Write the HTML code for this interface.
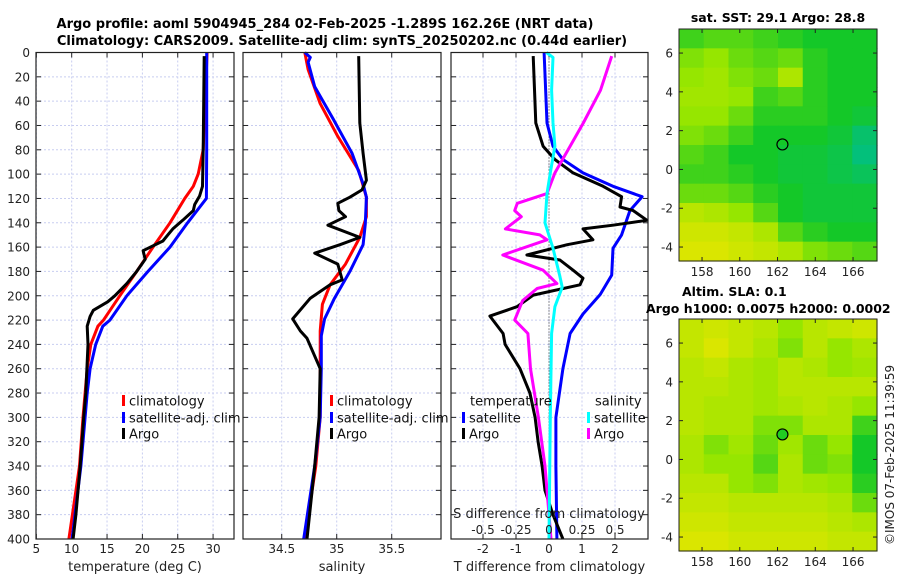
<!DOCTYPE html>
<html><head><meta charset="utf-8">
<style>
html,body{margin:0;padding:0;background:#fff;}
svg{display:block;font-family:"DejaVu Sans","Liberation Sans",sans-serif;}
</style></head>
<body>
<svg id="fig" width="900" height="580" viewBox="0 0 900 580" xmlns="http://www.w3.org/2000/svg">
<text x="325" y="28" text-anchor="middle" font-size="13" font-weight="bold">Argo profile: aoml 5904945_284 02-Feb-2025 -1.289S 162.26E (NRT data)</text>
<text x="342" y="45" text-anchor="middle" font-size="13" font-weight="bold">Climatology: CARS2009. Satellite-adj clim: synTS_20250202.nc (0.44d earlier)</text>
<g id="g"></g>
</svg>
<script>
// ---------- data ----------
const tempClimD=[0,80,100,110,120,140,160,180,200,220,225,240,260,300,340,400];
const tempClimV=[29.15,28.6,27.9,27.2,26.0,23.9,21.5,19.2,16.8,14.5,13.7,12.7,12.2,11.6,11.1,9.6];
const tempSatD=[0,80,120,140,160,180,200,220,225,240,260,280,300,340,400];
const tempSatV=[29.1,29.1,29.05,26.4,23.9,20.8,17.8,15.4,14.4,13.4,12.6,12.2,11.9,11.3,10.05];
const tempArgoD=[3,80,110,118,125,130,138,145,150,155,163,170,180,190,200,205,212,217,225,240,280,300,340,380,400];
const tempArgoV=[28.75,28.6,28.5,28.1,27.4,27.2,25.7,24.3,23.6,22.9,20.1,20.4,19.2,17.8,16.1,15.1,13.05,12.6,12.2,12.3,12.0,11.7,11.2,10.6,10.2];
const salClimD=[0,14,42,69,97,119,135,152,174,191,207,229,260,300,340,400];
const salClimV=[34.71,34.74,34.85,35.01,35.2,35.27,35.27,35.21,35.08,34.94,34.87,34.85,34.85,34.85,34.81,34.71];
const salSatD=[0,4,8,28,55,83,108,119,141,158,180,202,219,233,260,300,340,400];
const salSatV=[34.71,34.76,34.74,34.8,34.97,35.14,35.24,35.27,35.26,35.24,35.12,34.98,34.89,34.86,34.86,34.85,34.8,34.70];
const salArgoD=[3,58,83,105,113,119,124,130,135,142,152,158,165,174,187,191,202,219,229,235,260,300,340,400];
const salArgoV=[35.2,35.21,35.24,35.27,35.23,35.12,35.01,35.02,35.08,34.92,35.21,35.03,34.8,35.01,35.05,34.94,34.76,34.6,34.67,34.73,34.85,34.84,34.8,34.73];
const dTArgoD=[3,58,77,88,99,110,118.6,127,130,138,142,145,154,158,166.5,170.6,179,185.6,191,199.5,209,216.7,231,240,260,280,300,320,340,360,380,400];
const dTArgoV=[-0.48,-0.4,-0.18,0.18,0.73,1.64,2.2,2.15,2.55,2.97,1.94,1.03,1.33,0.55,-0.67,0.33,0.73,1.03,0.94,-0.48,-0.97,-1.79,-1.39,-1.33,-0.88,-0.58,-0.42,-0.33,-0.21,-0.12,0.12,0.42];
const dTSatD=[0,58,77,88,99,110,118.6,130,150,161,183,199,215,231,260,300,340,400];
const dTSatV=[-0.15,-0.06,0.12,0.42,1.03,1.94,2.82,2.45,2.2,1.94,1.9,1.55,1.03,0.64,0.42,0.21,0.21,0.24];
const dSArgoD=[3,31,58,77,99,116,124,130,135,145,150,154,166.5,179,190,194,204,220,231,260,300,340,400];
const dSArgoV=[0.475,0.39,0.26,0.16,0.045,-0.015,-0.24,-0.26,-0.21,-0.33,-0.07,-0.015,-0.35,-0.045,0.06,-0.09,-0.2,-0.26,-0.16,-0.14,-0.08,-0.03,0.015];
const dSSatD=[0,4,31,58,77,99,116,140,161,183,193,209,231,300,400];
const dSSatV=[-0.02,0.03,0.02,0.03,0.045,0.01,-0.015,-0.03,0.03,0.08,0.1,0.045,0.02,0.01,0.0];
const depthTicks=[0,20,40,60,80,100,120,140,160,180,200,220,240,260,280,300,320,340,360,380,400];
const tempTicks=[5,10,15,20,25,30];
const salTicks=[34.5,35,35.5];
const dTTicks=[-2,-1,0,1,2];
const dSTicks=[-0.5,-0.25,0,0.25,0.5];
const lonTicks=[158,160,162,164,166];
const latTicks=[-4,-2,0,2,4,6];
const argoLon=162.26, argoLat=1.289;
// map "yellowness" grids (rows north->south, cols west->east)
const sstGrid=[
[0.40,0.45,0.45,0.40,0.35,0.30,0.30,0.30],
[0.55,0.60,0.50,0.45,0.50,0.35,0.30,0.30],
[0.60,0.65,0.55,0.50,0.70,0.35,0.30,0.30],
[0.65,0.65,0.60,0.40,0.45,0.35,0.30,0.30],
[0.60,0.60,0.50,0.35,0.35,0.35,0.30,0.25],
[0.55,0.50,0.40,0.30,0.30,0.30,0.25,0.10],
[0.45,0.40,0.30,0.30,0.25,0.25,0.20,0.05],
[0.40,0.40,0.35,0.30,0.25,0.25,0.20,0.15],
[0.50,0.50,0.45,0.35,0.30,0.25,0.25,0.25],
[0.75,0.70,0.60,0.45,0.30,0.25,0.25,0.25],
[0.85,0.85,0.80,0.70,0.45,0.35,0.30,0.30],
[0.90,0.90,0.85,0.80,0.70,0.55,0.50,0.45]];
const slaGrid=[
[0.80,0.85,0.80,0.75,0.60,0.75,0.80,0.85],
[0.80,0.90,0.80,0.70,0.55,0.75,0.60,0.70],
[0.75,0.80,0.70,0.65,0.75,0.70,0.60,0.65],
[0.75,0.75,0.70,0.65,0.75,0.75,0.75,0.75],
[0.75,0.70,0.70,0.65,0.70,0.75,0.70,0.60],
[0.75,0.70,0.70,0.55,0.55,0.70,0.70,0.40],
[0.70,0.55,0.65,0.50,0.65,0.50,0.60,0.30],
[0.70,0.60,0.60,0.45,0.70,0.50,0.55,0.30],
[0.75,0.75,0.60,0.55,0.70,0.65,0.60,0.35],
[0.80,0.80,0.75,0.75,0.75,0.75,0.70,0.50],
[0.85,0.85,0.80,0.80,0.80,0.80,0.75,0.70],
[0.90,0.90,0.85,0.85,0.85,0.85,0.80,0.80]];

// ---------- drawing ----------
const NS='http://www.w3.org/2000/svg';
const G=document.getElementById('g');
function mk(tag,attrs,parent){const e=document.createElementNS(NS,tag);for(const k in attrs)e.setAttribute(k,attrs[k]);(parent||G).appendChild(e);return e;}
const Y0=52.5,Y1=539;
const yD=d=>Y0+(d/400)*(Y1-Y0);
function lin(d0,d1,r0,r1){return v=>r0+(v-d0)/(d1-d0)*(r1-r0);}
const panels=[
 {name:'temperature',x0:36,x1:234,dom:[4.95,32.96],ticks:tempTicks,label:'temperature (deg C)'},
 {name:'salinity',x0:243,x1:441,dom:[34.148,35.948],ticks:salTicks,label:'salinity'},
 {name:'difference',x0:451,x1:648,dom:[-2.97,3.0],ticks:dTTicks,label:'T difference from climatology'}];
panels.forEach((p,i)=>{
  p.sx=lin(p.dom[0],p.dom[1],p.x0,p.x1);
  const grp=mk('g',{});
  
  
  // grid
  depthTicks.forEach(d=>{const l=mk('line',{x1:p.x0,x2:p.x1,y1:yD(d),y2:yD(d),stroke:'#c8cdf0','stroke-width':1,'stroke-dasharray':'2,2'},grp);
    
    const t1=mk('line',{x1:p.x0,x2:p.x0+5,y1:yD(d),y2:yD(d),stroke:'#222'},grp);const t2=mk('line',{x1:p.x1-5,x2:p.x1,y1:yD(d),y2:yD(d),stroke:'#222'},grp);
    });
  p.ticks.forEach(v=>{const x=p.sx(v);
    const l=mk('line',{x1:x,x2:x,y1:Y0,y2:Y1,stroke:'#c8cdf0','stroke-width':1,'stroke-dasharray':'2,2'},grp);
    
    const t1=mk('line',{x1:x,x2:x,y1:Y1-5,y2:Y1,stroke:'#222'},grp);const t2=mk('line',{x1:x,x2:x,y1:Y0,y2:Y0+5,stroke:'#222'},grp);
    
    const t=mk('text',{x:x,y:553,'text-anchor':'middle','font-size':12,fill:'#222'},grp);t.textContent=String(v);
    });
  const xl=mk('text',{x:(p.x0+p.x1)/2,y:571,'text-anchor':'middle','font-size':13,fill:'#222'},grp);xl.textContent=p.label;
  
});
// y tick labels on first panel
depthTicks.forEach(d=>{const t=mk('text',{x:30,y:yD(d)+4.5,'text-anchor':'end','font-size':12,fill:'#222'});t.textContent=String(d);
  });
// zero dotted line in difference panel
const zx=panels[2].sx(0);
const zl=mk('line',{x1:zx,x2:zx,y1:Y0,y2:Y1,stroke:'#333','stroke-width':1,'stroke-dasharray':'1,2'});

function path(ds,vs,sx,color,name){
  const pts=ds.map((d,i)=>sx(vs[i]).toFixed(1)+','+yD(d).toFixed(1)).join(' ');
  const e=mk('polyline',{points:pts,fill:'none',stroke:color,'stroke-width':3,'stroke-linejoin':'round'});
  }
const sT=panels[0].sx,sS=panels[1].sx,sD=panels[2].sx,sDS=v=>sD(v*4);
path(tempClimD,tempClimV,sT,'#ff0000','temp-climatology-line');
path(tempSatD,tempSatV,sT,'#0000ff','temp-satellite-line');
path(tempArgoD,tempArgoV,sT,'#000000','temp-argo-line');
path(salClimD,salClimV,sS,'#ff0000','sal-climatology-line');
path(salSatD,salSatV,sS,'#0000ff','sal-satellite-line');
path(salArgoD,salArgoV,sS,'#000000','sal-argo-line');
path(dTSatD,dTSatV,sD,'#0000ff','tdiff-satellite-line');
path(dTArgoD,dTArgoV,sD,'#000000','tdiff-argo-line');
path(dSArgoD,dSArgoV,sDS,'#ff00ff','sdiff-argo-line');
path(dSSatD,dSSatV,sDS,'#00ffff','sdiff-satellite-line');
// frames
panels.forEach(p=>{const r=mk('rect',{x:p.x0,y:Y0,width:p.x1-p.x0,height:Y1-Y0,fill:'none',stroke:'#222','stroke-width':1.2});
  });
// S difference axis labels
const sdt=mk('text',{x:549,y:518,'text-anchor':'middle','font-size':13,fill:'#222'});sdt.textContent='S difference from climatology';

dSTicks.forEach(v=>{const t=mk('text',{x:sDS(v),y:534,'text-anchor':'middle','font-size':12,fill:'#222'});t.textContent=String(v);
  });
// legends
function legend(x,y,color,label,name){
  const r=mk('rect',{x:x,y:y-6,width:3,height:11,fill:color});
  const t=mk('text',{x:x+7,y:y+4.5,'font-size':13,fill:'#111'});t.textContent=label;}
legend(122,401,'#ff0000','climatology','legend-climatology');
legend(122,418,'#0000ff','satellite-adj. clim','legend-satellite');
legend(122,434,'#000000','Argo','legend-argo');
legend(330,401,'#ff0000','climatology','legend2-climatology');
legend(330,418,'#0000ff','satellite-adj. clim','legend2-satellite');
legend(330,434,'#000000','Argo','legend2-argo');
const lt=mk('text',{x:470,y:405.5,'font-size':13,fill:'#111'});lt.textContent='temperature';
const ls=mk('text',{x:595,y:405.5,'font-size':13,fill:'#111'});ls.textContent='salinity';
legend(462,418,'#0000ff','satellite','legend-tdiff-satellite');
legend(462,434,'#000000','Argo','legend-tdiff-argo');
legend(587,418,'#00ffff','satellite','legend-sdiff-satellite');
legend(587,434,'#ff00ff','Argo','legend-sdiff-argo');

// ---------- maps ----------
function cmap(v){ // 0 teal, 0.3 green, 0.6 lime, 1 yellow
  const st=[[0,[0,190,140]],[0.3,[20,200,40]],[0.6,[150,230,0]],[1,[240,230,0]]];
  for(let i=0;i<st.length-1;i++){if(v<=st[i+1][0]){const f=(v-st[i][0])/(st[i+1][0]-st[i][0]);
    return 'rgb('+st[i][1].map((c,j)=>Math.round(c+f*(st[i+1][1][j]-c))).join(',')+')';}}
  return 'rgb(240,230,0)';}
const LON0=156.78,LON1=167.27,LAT0=-4.72,LAT1=7.24;
function drawMap(top,grid,title,name,filled){
  const mx0=679,mx1=877,my0=top,my1=top+232;
  const sx=lin(LON0,LON1,mx0,mx1),sy=lin(LAT1,LAT0,my0,my1);
  const grp=mk('g',{});
  const rows=grid.length,cols=grid[0].length,cw=(mx1-mx0)/cols,ch=(my1-my0)/rows;
  grid.forEach((row,i)=>row.forEach((v,j)=>{const c=mk('rect',{x:mx0+j*cw,y:my0+i*ch,width:cw+0.6,height:ch+0.6,fill:cmap(v)},grp);
    }));
  const fr=mk('rect',{x:mx0,y:my0,width:mx1-mx0,height:my1-my0,fill:'none',stroke:'#222'},grp);
  
  lonTicks.forEach(v=>{const x=sx(v);mk('line',{x1:x,x2:x,y1:my1-4,y2:my1,stroke:'#222'},grp);mk('line',{x1:x,x2:x,y1:my0,y2:my0+4,stroke:'#222'},grp);
    const t=mk('text',{x:x,y:my1+15,'text-anchor':'middle','font-size':12,fill:'#222'},grp);t.textContent=String(v);
    });
  latTicks.forEach(v=>{const y=sy(v);mk('line',{x1:mx0,x2:mx0+4,y1:y,y2:y,stroke:'#222'},grp);mk('line',{x1:mx1-4,x2:mx1,y1:y,y2:y,stroke:'#222'},grp);
    const t=mk('text',{x:673,y:y+4.5,'text-anchor':'end','font-size':12,fill:'#222'},grp);t.textContent=String(v);
    });
  const c=mk('circle',{cx:sx(argoLon),cy:sy(argoLat),r:5.5,fill:filled?'#22cc22':'none',stroke:'#000','stroke-width':1.2},grp);
  
}
drawMap(29,sstGrid,'','sst-map',false);
drawMap(319,slaGrid,'','sla-map',true);
const mt1=mk('text',{x:778,y:22,'text-anchor':'middle','font-size':12.5,'font-weight':'bold'});mt1.textContent='sat. SST: 29.1 Argo: 28.8';

const mt2=mk('text',{x:682,y:296,'font-size':12.5,'font-weight':'bold'});mt2.textContent='Altim. SLA: 0.1';

const mt3=mk('text',{x:646,y:313,'font-size':12.5,'font-weight':'bold'});mt3.textContent='Argo h1000: 0.0075 h2000: 0.0002';

const cp=mk('text',{x:0,y:0,'font-size':12,fill:'#222',transform:'translate(894,545) rotate(-90)'});cp.textContent='©IMOS 07-Feb-2025 11:39:59';

</script>
</body></html>
